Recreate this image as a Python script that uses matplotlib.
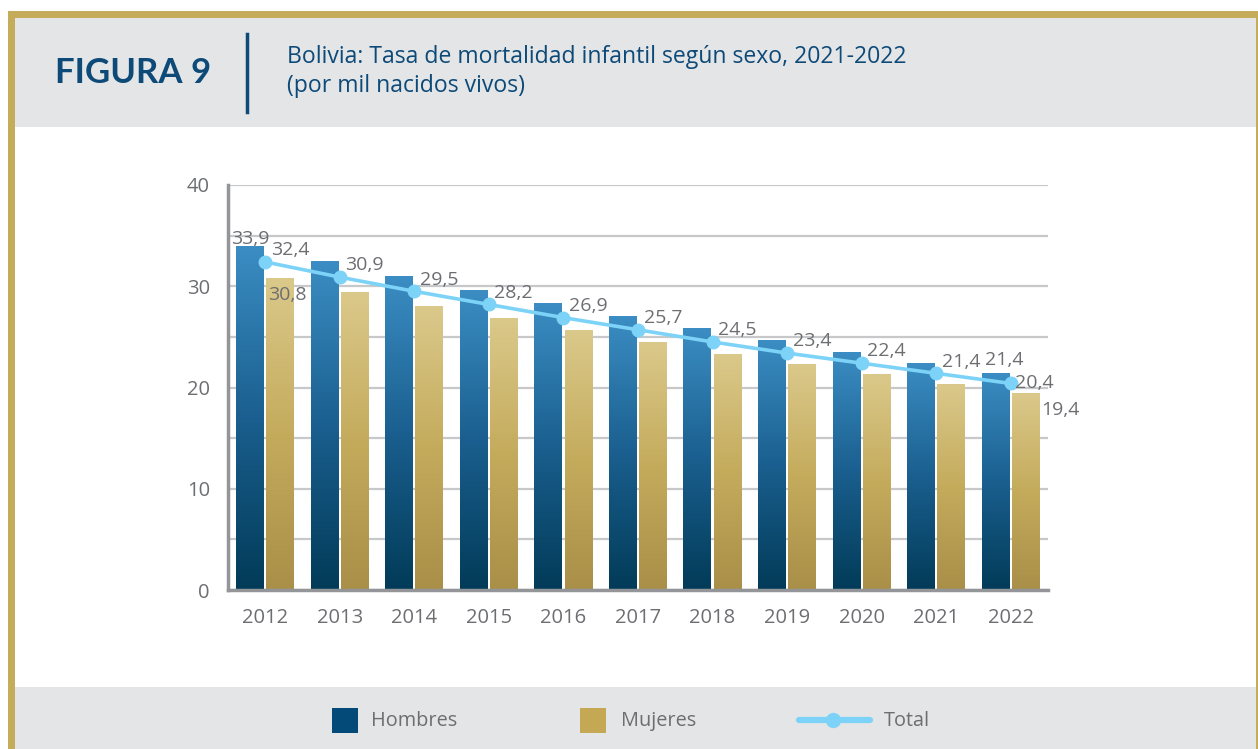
import matplotlib.pyplot as plt
import numpy as np
from matplotlib.patches import Rectangle
from matplotlib.lines import Line2D
from matplotlib.colors import LinearSegmentedColormap

plt.rcParams["font.family"] = ["Open Sans", "DejaVu Sans"]

years = ["2012", "2013", "2014", "2015", "2016", "2017", "2018", "2019", "2020", "2021", "2022"]
hombres = [33.9, 32.4, 31.0, 29.6, 28.3, 27.0, 25.8, 24.6, 23.5, 22.4, 21.4]
mujeres = [30.8, 29.4, 28.0, 26.8, 25.6, 24.4, 23.3, 22.3, 21.3, 20.3, 19.4]
total = [32.4, 30.9, 29.5, 28.2, 26.9, 25.7, 24.5, 23.4, 22.4, 21.4, 20.4]
yticks = [0, 10, 20, 30, 40]

W, H = 1258, 749
GOLD = "#c4ac5a"
BAND = "#e4e5e7"
NAVY = "#0d4a78"
TXT = "#6d6e71"
LINE = "#7dd3f7"

fig = plt.figure(figsize=(W / 100, H / 100), dpi=100)
fig.patch.set_facecolor("white")


def frect(x0, y0, x1, y1, color, z=0):
    # rectangle in pixel coords (origin top-left)
    fig.patches.append(Rectangle((x0 / W, 1 - y1 / H), (x1 - x0) / W, (y1 - y0) / H,
                                 transform=fig.transFigure, facecolor=color,
                                 edgecolor="none", zorder=z))


# frame and bands
frect(15, 18, 1256, 127, BAND)
frect(15, 687, 1256, 749, BAND)
frect(8, 11, 1258, 18, GOLD, 1)
frect(8, 11, 15, 749, GOLD, 1)
frect(1256, 11, 1258, 749, GOLD, 1)

# header
fig.text(55 / W, 1 - 73 / H, "FIGURA 9", fontsize=25, fontweight="bold", color=NAVY,
         va="center", ha="left", family=["Lato", "DejaVu Sans"])
fig.add_artist(Line2D([247 / W, 247 / W], [1 - 34 / H, 1 - 112 / H], color=NAVY, lw=2.5))
fig.text(287 / W, 1 - 57 / H, "Bolivia: Tasa de mortalidad infantil según sexo, 2021-2022",
         fontsize=16.6, color=NAVY, va="center", ha="left")
fig.text(287 / W, 1 - 86 / H, "(por mil nacidos vivos)", fontsize=16.6, color=NAVY,
         va="center", ha="left")

# axes
ax = fig.add_axes([228 / W, 1 - 590 / H, 820 / W, 405 / H])
ax.set_facecolor("none")
x = np.arange(len(years))
bw = 0.375

cm_h = LinearSegmentedColormap.from_list("h", ["#023b58", "#1a5f8f", "#3b8dc3"])
cm_m = LinearSegmentedColormap.from_list("m", ["#a98f48", "#c4ab5c", "#dbc98b"])
grad = np.linspace(0, 1, 256).reshape(-1, 1)

for i in range(len(years)):
    ax.imshow(grad, cmap=cm_h, origin="lower", aspect="auto",
              extent=[x[i] - 0.39, x[i] - 0.39 + bw, 0, hombres[i]], zorder=2)
    ax.imshow(grad, cmap=cm_m, origin="lower", aspect="auto",
              extent=[x[i] + 0.015, x[i] + 0.015 + bw, 0, mujeres[i]], zorder=2)

ax.plot(x, total, color=LINE, lw=2.6, marker="o", markersize=9, zorder=4)

ax.set_xlim(-0.5, 10.5)
ax.set_ylim(0, 40)
ax.set_yticks(yticks)
ax.set_yticks(np.arange(5, 41, 10), minor=True)
ax.set_xticks(x)
ax.set_xticklabels(years)
ax.grid(True, axis="y", which="both", color="#c7c8ca", lw=1.6, zorder=1)
ax.set_axisbelow(True)
ax.tick_params(axis="both", which="both", length=0, labelsize=14.5, labelcolor=TXT)
ax.tick_params(axis="y", pad=13)
ax.tick_params(axis="x", pad=13)
for s in ["top", "right"]:
    ax.spines[s].set_visible(False)
for s in ["left", "bottom"]:
    ax.spines[s].set_color("#939598")
    ax.spines[s].set_linewidth(2.5)
    ax.spines[s].set_zorder(5)

# data labels
lab = dict(fontsize=14, color=TXT, textcoords="offset points", zorder=6)
fmt = lambda v: f"{v:.1f}".replace(".", ",")
for i, v in enumerate(total):
    if i == len(total) - 1:
        ax.annotate(fmt(v), (x[i], v), xytext=(3, 0), ha="left", va="center", **lab)
    else:
        ax.annotate(fmt(v), (x[i], v), xytext=(4, 2), ha="left", va="bottom", **lab)

ax.annotate(fmt(hombres[0]), (x[0] - 0.39 + bw / 2, hombres[0]), xytext=(0, -1),
            ha="center", va="bottom", **lab)
ax.annotate(fmt(mujeres[0]), (x[0] + 0.015, mujeres[0]), xytext=(1, -6),
            ha="left", va="top", **lab)
ax.annotate(fmt(hombres[-1]), (x[-1] - 0.39 + bw / 2, hombres[-1]), xytext=(6, 3),
            ha="center", va="bottom", **lab)
ax.annotate(fmt(mujeres[-1]), (x[-1] + 0.015 + bw, mujeres[-1]), xytext=(1, -5),
            ha="left", va="top", **lab)

# legend
ly = 1 - 721 / H
frect(332, 708, 358, 733, "#034a79", 2)
fig.text(371 / W, ly, "Hombres", fontsize=14.3, color=TXT, va="center", ha="left")
frect(580, 708, 606, 733, "#c4a853", 2)
fig.text(621 / W, ly, "Mujeres", fontsize=14.3, color=TXT, va="center", ha="left")
fig.add_artist(Line2D([799 / W, 870 / W], [1 - 720 / H, 1 - 720 / H], color=LINE, lw=4.5,
                      solid_capstyle="round"))
fig.add_artist(Line2D([833 / W], [1 - 720 / H], color=LINE, marker="o", markersize=10))
fig.text(884 / W, ly, "Total", fontsize=14.3, color=TXT, va="center", ha="left")

fig.savefig("out.png", dpi=100, facecolor="white")
